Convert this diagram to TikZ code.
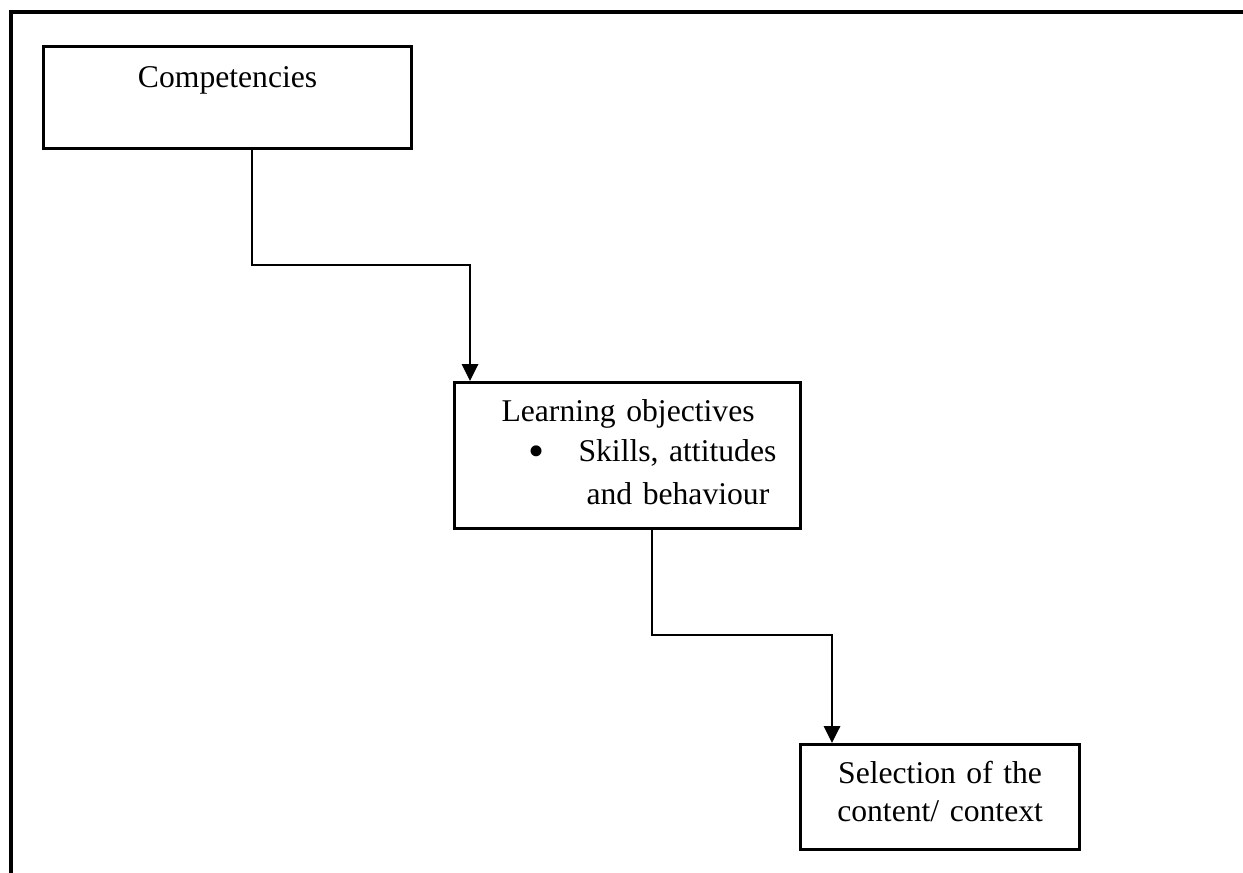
\documentclass[tikz,border=0pt]{standalone}
\usepackage{fontspec}
\setmainfont{Liberation Serif}
\usepackage{tikz}
\usetikzlibrary{arrows.meta}

\begin{document}
\begin{tikzpicture}[x=0.025cm,y=-0.025cm,
  box/.style={draw, line width=2.2pt, inner sep=0pt, font=\fontsize{22.5pt}{28.45pt}\selectfont},
  link/.style={line width=2pt, -{Triangle[length=0.42cm,width=0.4cm]}}]
\useasboundingbox (0,0) rectangle (1243,873);
\draw [line width=3pt] (1243,12) -- (11,12) -- (11,873);

\node (comp) [box, anchor=north west, text width=9.2cm, text height=1.025cm, text depth=1.525cm, align=center] at (42,45) {Competencies};
\node (learn) [box, anchor=north west, text width=8.65cm, text height=0.975cm, text depth=2.675cm, align=left] at (453,381)
 {\hspace*{1.175cm}Learning objectives\\
  \hspace*{1.85cm}\makebox[1.25cm][l]{\raisebox{-0.12cm}{\scalebox{1.45}{\textbullet}}}Skills, attitudes\\[0.075cm]
  \hspace*{3.3cm}and behaviour};
\node (sel) [box, anchor=north west, text width=6.975cm, text height=0.975cm, text depth=1.65cm, align=center] at (799,743)
 {Selection of the\\[-0.05cm] content/ context};

\coordinate (bendA) at (252,265);
\coordinate (bendB) at (470,265);
\coordinate (bendC) at (652,635);
\coordinate (bendD) at (832,635);
\draw [link] (comp.south -| bendA) -- (bendA) -- (bendB) -- (learn.north -| bendB);
\draw [link] (learn.south -| bendC) -- (bendC) -- (bendD) -- (sel.north -| bendD);
\end{tikzpicture}
\end{document}
